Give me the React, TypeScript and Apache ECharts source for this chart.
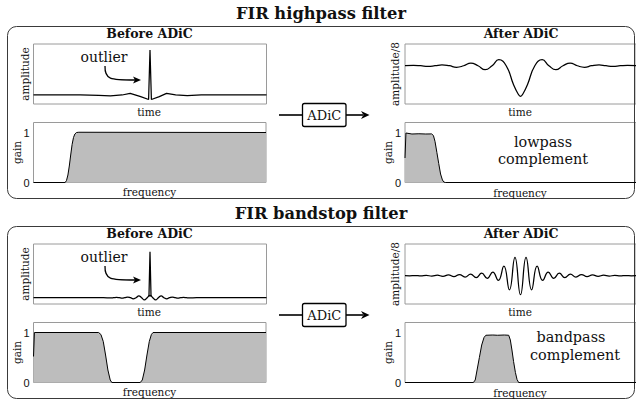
import { useEffect, useRef } from "react";
import * as echarts from "echarts";

// ---------- titles and labels ----------
const panelTitles = ["FIR highpass filter", "FIR bandstop filter"];
const complementWords = [
  ["lowpass", "complement"],
  ["bandpass", "complement"],
];
const gainTickValues = [0, 1];

// ---------- FIR highpass: before ADiC (time, amplitude; outlier = 1) ----------
const hpBeforeT = [-50, -30, -22, -17, -12, -8.5, -4, -0.6, 0, 0.6, 4, 7.1, 11, 16, 22, 50];
const hpBeforeV = [0, 0, -0.01, -0.02, 0, 0.037, -0.035, -0.1, 1, -0.1, -0.035, 0.037, 0.005, -0.012, 0, 0];

// ---------- FIR highpass: after ADiC (time, amplitude/8) ----------
const hpAfterT = [-50, -46.3, -43.2, -40.1, -37, -34, -30.8, -27.7, -24.6, -21.5, -18.4, -15.3, -12.3, -9.4, -6.2, -3, -1.2, 0, 1.2, 3, 6.2, 9.4, 12.3, 15.3, 18.4, 21.5, 24.6, 27.7, 30.8, 34, 37, 40.1, 43.2, 46.3, 50];
const hpAfterV = [0.005, 0.012, 0, -0.018, 0, 0.028, 0, -0.05, 0, 0.088, 0, -0.13, 0, 0.196, 0, -0.62, -0.9, -1.0, -0.9, -0.62, 0, 0.196, 0, -0.13, 0, 0.088, 0, -0.05, 0, 0.028, 0, -0.018, 0, 0.012, 0.005];

// ---------- FIR bandstop: before ADiC ----------
const bsBeforeRippleT = [-50, -20, -16.8, -15.6, -14.4, -13.2, -12, -10.8, -9.6, -8.4, -7.2, -6, -4.8, -3.6, -2.4, -1.2, 0, 1.2, 2.4, 3.6, 4.8, 6, 7.2, 8.4, 9.6, 10.8, 12, 13.2, 14.4, 15.6, 16.8, 20, 50];
const bsBeforeRippleV = [0, 0, -0.005, 0, 0.007, 0, -0.01, 0, 0.015, 0, -0.026, 0, 0.038, 0, -0.05, 0, 0.05, 0, -0.05, 0, 0.038, 0, -0.026, 0, 0.015, 0, -0.01, 0, 0.007, 0, -0.005, 0, 0];
const bsBeforeSpikeT = [-0.45, 0, 0.45];
const bsBeforeSpikeV = [0.02, 1, 0.02];

// ---------- FIR bandstop: after ADiC (extrema read every ~2.4 time units) ----------
const bsAfterT = [-50, -48, -45.6, -43.2, -40.8, -38.4, -36, -33.6, -31.2, -28.8, -26.4, -24, -21.6, -19.2, -16.8, -14.4, -12, -9.6, -7.2, -4.8, -2.4, 0, 2.4, 4.8, 7.2, 9.6, 12, 14.4, 16.8, 19.2, 21.6, 24, 26.4, 28.8, 31.2, 33.6, 36, 38.4, 40.8, 43.2, 45.6, 48, 50];
const bsAfterV = [0, -0.005, 0.008, -0.01, 0.015, -0.02, 0.025, -0.03, 0.04, -0.05, 0.06, -0.07, 0.08, -0.1, 0.13, -0.14, 0.19, -0.25, 0.5, -0.74, 0.97, -1.0, 0.97, -0.74, 0.5, -0.25, 0.19, -0.14, 0.13, -0.1, 0.08, -0.07, 0.06, -0.05, 0.04, -0.03, 0.025, -0.02, 0.015, -0.01, 0.008, -0.005, 0];

// ---------- gain curves (normalised frequency, gain) ----------
const hpGainF = [0, 0.136, 0.142, 0.148, 0.154, 0.16, 0.166, 0.172, 0.178, 0.185, 0.195, 1];
const hpGainG = [0, 0, 0.04, 0.15, 0.33, 0.55, 0.76, 0.9, 0.97, 1.0, 1.005, 1.0];

const lpGainF = [0, 0.004, 0.03, 0.06, 0.09, 0.115, 0.123, 0.13, 0.138, 0.146, 0.154, 0.162, 0.168, 0.175, 1];
const lpGainG = [0.49, 0.99, 0.97, 0.975, 0.97, 0.972, 0.94, 0.82, 0.6, 0.38, 0.17, 0.05, 0.01, 0, 0];

const bsGainF = [0, 0.004, 0.28, 0.29, 0.3, 0.31, 0.32, 0.33, 0.337, 0.459, 0.468, 0.478, 0.488, 0.498, 0.507, 0.514, 1];
const bsGainG = [0.52, 1, 1, 0.96, 0.82, 0.55, 0.25, 0.05, 0, 0, 0.05, 0.25, 0.55, 0.82, 0.96, 1, 1];

const bpGainF = [0, 0.296, 0.304, 0.312, 0.322, 0.332, 0.342, 0.35, 0.38, 0.4, 0.43, 0.449, 0.456, 0.463, 0.47, 0.478, 0.485, 0.492, 1];
const bpGainG = [0, 0, 0.05, 0.25, 0.5, 0.75, 0.9, 0.945, 0.95, 0.945, 0.95, 0.945, 0.85, 0.65, 0.42, 0.2, 0.06, 0, 0];

const zip = (a: number[], b: number[]) => a.map((v, i) => [v, b[i]]);

const SERIF = '"DejaVu Serif", serif';
const SANS = '"Liberation Sans", Arial, sans-serif';

function txt(x: number, y: number, text: string, size: number, weight = "normal", rot = 0, family = SERIF) {
  return {
    type: "text",
    x,
    y,
    rotation: rot,
    silent: true,
    z: 20,
    style: {
      text,
      fontSize: size,
      fontFamily: family,
      fontWeight: weight,
      fill: "#111",
      align: "center",
      verticalAlign: "middle",
    },
  };
}

export default function App() {
  const ref = useRef<HTMLDivElement>(null);
  useEffect(() => {
    if (!ref.current) return;
    const chart = echarts.init(ref.current, null, { renderer: "svg" });

    const grids: any[] = [];
    const xAxes: any[] = [];
    const yAxes: any[] = [];
    const series: any[] = [];
    const graphic: any[] = [];

    const timeY = [
      { before: [-0.2, 1.133], after: [-1.25, 0.71] },
      { before: [-0.137, 1.167], after: [-1.49, 1.67] },
    ];
    const signals = [
      {
        before: [zip(hpBeforeT, hpBeforeV)],
        after: zip(hpAfterT, hpAfterV),
        gainBefore: zip(hpGainF, hpGainG),
        gainAfter: zip(lpGainF, lpGainG),
      },
      {
        before: [zip(bsBeforeRippleT, bsBeforeRippleV), zip(bsBeforeSpikeT, bsBeforeSpikeV)],
        after: zip(bsAfterT, bsAfterV),
        gainBefore: zip(bsGainF, bsGainG),
        gainAfter: zip(bpGainF, bpGainG),
      },
    ];

    const addPlot = (
      rect: { left: number; top: number; width: number; height: number },
      xr: [number, number],
      yr: [number, number],
      isGain: boolean
    ) => {
      const idx = grids.length;
      grids.push({
        ...rect,
        show: true,
        borderColor: "#9a9a9a",
        borderWidth: 1,
        backgroundColor: "transparent",
        containLabel: false,
      });
      xAxes.push({
        type: "value",
        gridIndex: idx,
        min: xr[0],
        max: xr[1],
        axisLine: { show: false },
        axisTick: { show: false },
        axisLabel: { show: false },
        splitLine: { show: false },
      });
      yAxes.push(
        isGain
          ? {
              type: "value",
              gridIndex: idx,
              min: 0,
              max: 1.2,
              interval: 1,
              axisLine: { show: false },
              axisTick: { show: false },
              splitLine: { show: false },
              axisLabel: {
                show: true,
                margin: 4,
                showMaxLabel: false,
                color: "#111",
                fontSize: 11,
                fontFamily: SANS,
                formatter: (v: number) => (gainTickValues.includes(v) ? String(v) : ""),
              },
            }
          : {
              type: "value",
              gridIndex: idx,
              min: yr[0],
              max: yr[1],
              axisLine: { show: false },
              axisTick: { show: false },
              axisLabel: { show: false },
              splitLine: { show: false },
            }
      );
      return idx;
    };

    const line = (idx: number, data: number[][], smooth: boolean | number, area = false) => ({
      type: "line",
      xAxisIndex: idx,
      yAxisIndex: idx,
      data,
      smooth,
      showSymbol: false,
      symbol: "none",
      silent: true,
      clip: true,
      lineStyle: { color: "#000", width: area ? 1 : 1.25 },
      areaStyle: area ? { color: "#bdbdbd", opacity: 1, origin: "start" } : undefined,
    });

    [0, 200].forEach((dy, p) => {
      const s = signals[p];
      // plots
      const tb = addPlot({ left: 33.5, top: 44 + dy, width: 233, height: 60 }, [-50, 50], timeY[p].before as any, false);
      s.before.forEach((d, k) => series.push(line(tb, d, p === 1 && k === 0 ? 0.5 : false)));
      const gb = addPlot({ left: 33.5, top: 122.5 + dy, width: 232.5, height: 60 }, [0, 1], [0, 1.2], true);
      series.push(line(gb, s.gainBefore, false, true));
      const ta = addPlot({ left: 405, top: 44 + dy, width: 233, height: 60 }, [-50, 50], timeY[p].after as any, false);
      series.push(line(ta, s.after, 0.5));
      const ga = addPlot({ left: 405, top: 122.5 + dy, width: 233, height: 60 }, [0, 1], [0, 1.2], true);
      series.push(line(ga, s.gainAfter, false, true));

      // panel frame and title
      graphic.push({
        type: "rect",
        silent: true,
        z: 1,
        shape: { x: 7.5, y: 26.5 + dy, width: 627, height: 172, r: 9 },
        style: { fill: "none", stroke: "#3a3a3a", lineWidth: 1 },
      });
      graphic.push(txt(321, 13.5 + dy, panelTitles[p], 16.3, "bold"));
      graphic.push(txt(149.5, 33.5 + dy, "Before ADiC", 12.5, "bold"));
      graphic.push(txt(521, 33.5 + dy, "After ADiC", 12.5, "bold"));

      // axis names
      graphic.push(txt(149, 111.5 + dy, "time", 10.5));
      graphic.push(txt(149.5, 192 + dy, "frequency", 10.5));
      graphic.push(txt(520, 111.5 + dy, "time", 10.5));
      graphic.push(txt(520, 192.5 + dy, "frequency", 10.5));
      graphic.push(txt(25, 74 + dy, "amplitude", 10.5, "normal", Math.PI / 2));
      graphic.push(txt(395, 74 + dy, "amplitude/8", 10.5, "normal", Math.PI / 2));
      graphic.push(txt(17, 152.5 + dy, "gain", 10.5, "normal", Math.PI / 2));
      graphic.push(txt(388, 152.5 + dy, "gain", 10.5, "normal", Math.PI / 2));

      // outlier annotation
      graphic.push(txt(104, 57 + dy, "outlier", 14));
      graphic.push({
        type: "bezierCurve",
        silent: true,
        z: 20,
        shape: { x1: 105, y1: 66 + dy, cpx1: 104.5, cpy1: 79.5 + dy, cpx2: 110, cpy2: 80 + dy, x2: 135, y2: 80 + dy },
        style: { stroke: "#000", lineWidth: 1.3, fill: "none" },
      });
      graphic.push({
        type: "polygon",
        silent: true,
        z: 20,
        shape: { points: [[141, 80 + dy], [133, 76.5 + dy], [135, 80 + dy], [133, 83.5 + dy]] },
        style: { fill: "#000", stroke: "none" },
      });

      // ADiC block
      const ay = 115 + dy;
      graphic.push({
        type: "line",
        silent: true,
        z: 20,
        shape: { x1: 279, y1: ay, x2: 302.5, y2: ay },
        style: { stroke: "#000", lineWidth: 1.6 },
      });
      graphic.push({
        type: "rect",
        silent: true,
        z: 20,
        shape: { x: 302.5, y: ay - 11.5, width: 43.5, height: 23, r: 2 },
        style: { fill: "#fff", stroke: "#000", lineWidth: 1.3 },
      });
      graphic.push(txt(324.3, ay + 0.5, "ADiC", 13));
      graphic.push({
        type: "line",
        silent: true,
        z: 20,
        shape: { x1: 346, y1: ay, x2: 363, y2: ay },
        style: { stroke: "#000", lineWidth: 1.6 },
      });
      graphic.push({
        type: "polygon",
        silent: true,
        z: 20,
        shape: { points: [[369.5, ay], [361, ay - 4], [363.5, ay], [361, ay + 4]] },
        style: { fill: "#000", stroke: "none" },
      });

      // complement annotation
      const cx = p === 0 ? [543, 543] : [571, 575];
      const cy = p === 0 ? [142, 158.5] : [336.5, 354.5];
      graphic.push(txt(cx[0], cy[0], complementWords[p][0], 14.4));
      graphic.push(txt(cx[1], cy[1], complementWords[p][1], 14.4));
    });

    chart.setOption({
      animation: false,
      backgroundColor: "#ffffff",
      grid: grids,
      xAxis: xAxes,
      yAxis: yAxes,
      series,
      graphic,
    });
    return () => chart.dispose();
  }, []);

  return (
    <div
      ref={ref}
      style={{ position: "fixed", left: 0, top: 0, width: 636, height: 401, background: "#fff" }}
    />
  );
}
